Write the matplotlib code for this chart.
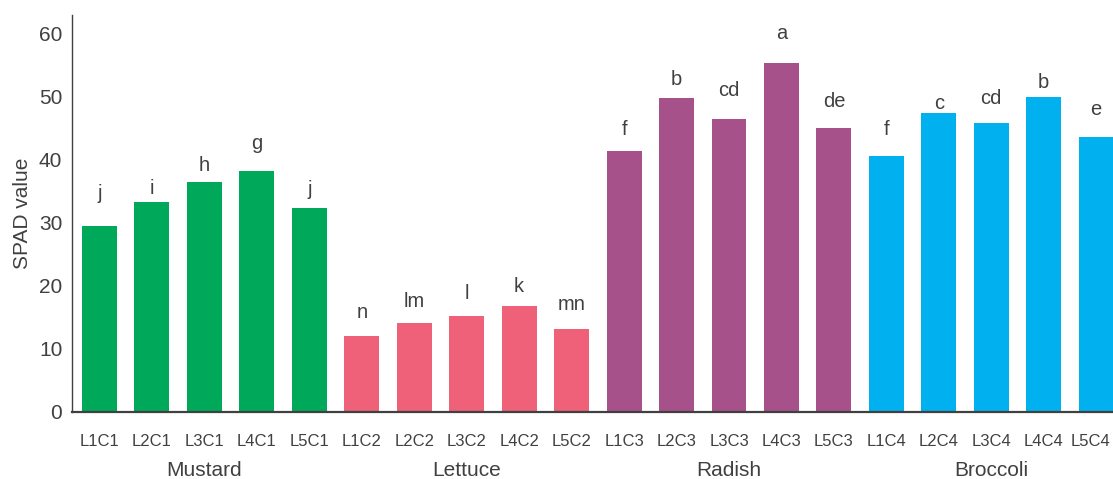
import matplotlib.pyplot as plt
import matplotlib.transforms as mtransforms
import numpy as np

plt.rcParams['font.family'] = ['Liberation Sans', 'DejaVu Sans']

crops = ['Mustard', 'Lettuce', 'Radish', 'Broccoli']
crop_colors = ['#00A859', '#EF6179', '#A65189', '#00B0EF']

treatments = ['L1C1', 'L2C1', 'L3C1', 'L4C1', 'L5C1',
              'L1C2', 'L2C2', 'L3C2', 'L4C2', 'L5C2',
              'L1C3', 'L2C3', 'L3C3', 'L4C3', 'L5C3',
              'L1C4', 'L2C4', 'L3C4', 'L4C4', 'L5C4']

spad = [29.4, 33.2, 36.4, 38.1, 32.3,
        12.0, 14.1, 15.2, 16.8, 13.1,
        41.3, 49.7, 46.4, 55.3, 45.0,
        40.5, 47.4, 45.8, 49.9, 43.6]

# significance letters and the height they sit at (data units)
letters = ['j', 'i', 'h', 'g', 'j',
           'n', 'lm', 'l', 'k', 'mn',
           'f', 'b', 'cd', 'a', 'de',
           'f', 'c', 'cd', 'b', 'e']
letter_y = [33.7, 34.6, 38.1, 41.6, 34.3,
            14.8, 16.6, 17.9, 19.0, 16.1,
            43.9, 51.8, 50.0, 59.1, 48.3,
            43.9, 48.0, 48.8, 51.4, 47.0]

txt = '#404040'

fig = plt.figure(figsize=(11.13, 4.79), dpi=100)
ax = fig.add_axes([0.0647, 0.1405, 0.9353, 0.828])

x = np.arange(len(treatments))
colors = [crop_colors[i // 5] for i in range(len(treatments))]
ax.bar(x, spad, width=0.667, color=colors, zorder=2)

for xi, lab, ly in zip(x, letters, letter_y):
    ax.text(xi, ly, lab, ha='center', va='baseline', fontsize=14.5, color=txt)

ax.set_xlim(-0.524, 19.32)
ax.set_ylim(0, 62.9)
ax.set_yticks(range(0, 61, 10))
ax.set_xticks(x)
ax.set_xticklabels(treatments)
ax.tick_params(axis='x', length=0, pad=16, labelsize=12, labelcolor=txt)
ax.tick_params(axis='y', length=0, pad=7, labelsize=15, labelcolor=txt)
ax.set_ylabel('SPAD value', fontsize=15, color=txt, labelpad=5)

# nudge the last tick label so it stays inside the figure
last = ax.get_xticklabels()[-1]
last.set_transform(last.get_transform() +
                   mtransforms.ScaledTranslation(-4 / 72, 0, fig.dpi_scale_trans))

for k, name in enumerate(crops):
    ax.annotate(name, xy=(k * 5 + 2, 0), xycoords=('data', 'axes fraction'),
                xytext=(0, -42), textcoords='offset points',
                ha='center', va='center', fontsize=15, color=txt)

for side in ['top', 'right']:
    ax.spines[side].set_visible(False)
ax.spines['left'].set_color('#404040')
ax.spines['left'].set_linewidth(1.0)
ax.spines['bottom'].set_color('#404040')
ax.spines['bottom'].set_linewidth(1.6)

fig.savefig('out.png', dpi=100)
